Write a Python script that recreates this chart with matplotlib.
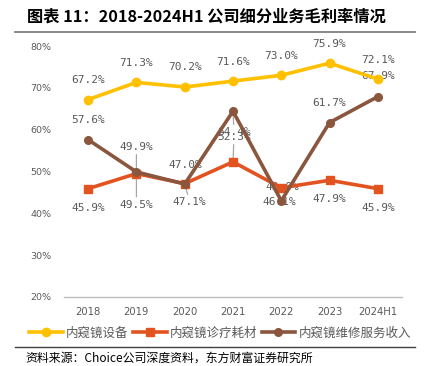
import matplotlib
matplotlib.use("Agg")
import matplotlib.pyplot as plt
from matplotlib.lines import Line2D

years = ["2018", "2019", "2020", "2021", "2022", "2023", "2024H1"]
equipment = [67.2, 71.3, 70.2, 71.6, 73.0, 75.9, 72.1]
consumables = [45.9, 49.5, 47.1, 52.3, 46.1, 47.9, 45.9]
service = [57.6, 49.9, 47.0, 64.4, 43.0, 61.7, 67.9]
series_names = ["内窥镜设备", "内窥镜诊疗耗材", "内窥镜维修服务收入"]
yticks = [20, 30, 40, 50, 60, 70, 80]

CJK = ["Noto Sans CJK SC", "DejaVu Sans"]
C_Y = "#FFC000"
C_O = "#E3531F"
C_B = "#8A563E"
GREY = "#595959"

W, H = 436, 366
fig = plt.figure(figsize=(W / 100, H / 100), dpi=100)
ax = fig.add_axes([64 / W, 1 - 297 / H, (402 - 64) / W, (297 - 46) / H])

x = list(range(len(years)))
ax.plot(x, equipment, color=C_Y, lw=2.6, marker="o", ms=6, zorder=4)
ax.plot(x, consumables, color=C_O, lw=2.6, marker="s", ms=5.5, zorder=4)
ax.plot(x, service, color=C_B, lw=2.6, marker="o", ms=5.5, zorder=4)

ax.set_xlim(-0.5, len(years) - 0.5)
ax.set_ylim(20, 80)
ax.set_yticks(yticks)
ax.set_yticklabels([f"{v}%" for v in yticks], fontsize=6.8, color=GREY)
ax.set_xticks(x)
ax.set_xticklabels(years, fontsize=7.2, color=GREY)
ax.tick_params(axis="both", length=0)
ax.tick_params(axis="y", pad=9)
ax.tick_params(axis="x", pad=7)
for s in ["top", "right", "left"]:
    ax.spines[s].set_visible(False)
ax.spines["bottom"].set_color("#BFBFBF")
ax.spines["bottom"].set_linewidth(1.0)

# label offsets in pixels (dx, dy, leader)
off_y = [(0, 19.5, False)] * 7
off_o = [(0, -19.5, False), (0, -31, True), (5, -18.5, True), (1, 25, True),
         (-2, -14, False), (0, -19, False), (0, -19.5, False)]
off_b = [(0, 20, False), (0, 25, True), (1, 19, False), (1, -21, True),
         (1, 14, False), (0, 20, False), (0, 20.5, False)]

def labels(vals, offs):
    for i, (v, (dx, dy, lead)) in enumerate(zip(vals, offs)):
        kw = {}
        if lead:
            kw["arrowprops"] = dict(arrowstyle="-", color="#A6A6A6", lw=0.9,
                                    shrinkA=0, shrinkB=2)
        ax.annotate(f"{v:.1f}%", xy=(i, v), xytext=(dx, dy),
                    textcoords="offset pixels", ha="center", va="center",
                    fontsize=8, color=GREY, family="DejaVu Sans Mono",
                    zorder=2, **kw)

labels(equipment, off_y)
labels(consumables, off_o)
labels(service, off_b)

# title
fig.text(27 / W, 1 - 17 / H, "图表 11：2018-2024H1 公司细分业务毛利率情况",
         fontsize=11.7, fontweight="bold", family=CJK, color="black",
         ha="left", va="center")
fig.add_artist(Line2D([15 / W, 415 / W], [1 - 32 / H, 1 - 32 / H],
                      color="#7F7F7F", lw=1.3))
fig.add_artist(Line2D([15 / W, 415 / W], [1 - 347 / H, 1 - 347 / H],
                      color="#404040", lw=1.0))

handles = [
    Line2D([], [], color=C_Y, lw=2.6, marker="o", ms=6),
    Line2D([], [], color=C_O, lw=2.6, marker="s", ms=5.5),
    Line2D([], [], color=C_B, lw=2.6, marker="o", ms=5.5),
]
leg = fig.legend(handles, series_names, loc="center",
                 bbox_to_anchor=(220 / W, 1 - 333 / H), ncol=3, frameon=False,
                 prop={"family": CJK, "size": 9}, handlelength=2.7,
                 handletextpad=0.25, columnspacing=0.35, borderpad=0)
for t in leg.get_texts():
    t.set_color(GREY)

fig.text(25 / W, 1 - 358 / H, "资料来源：Choice公司深度资料，东方财富证券研究所",
         fontsize=8.6, family=CJK, color="black", ha="left", va="center")

fig.savefig("out.png", dpi=100)
